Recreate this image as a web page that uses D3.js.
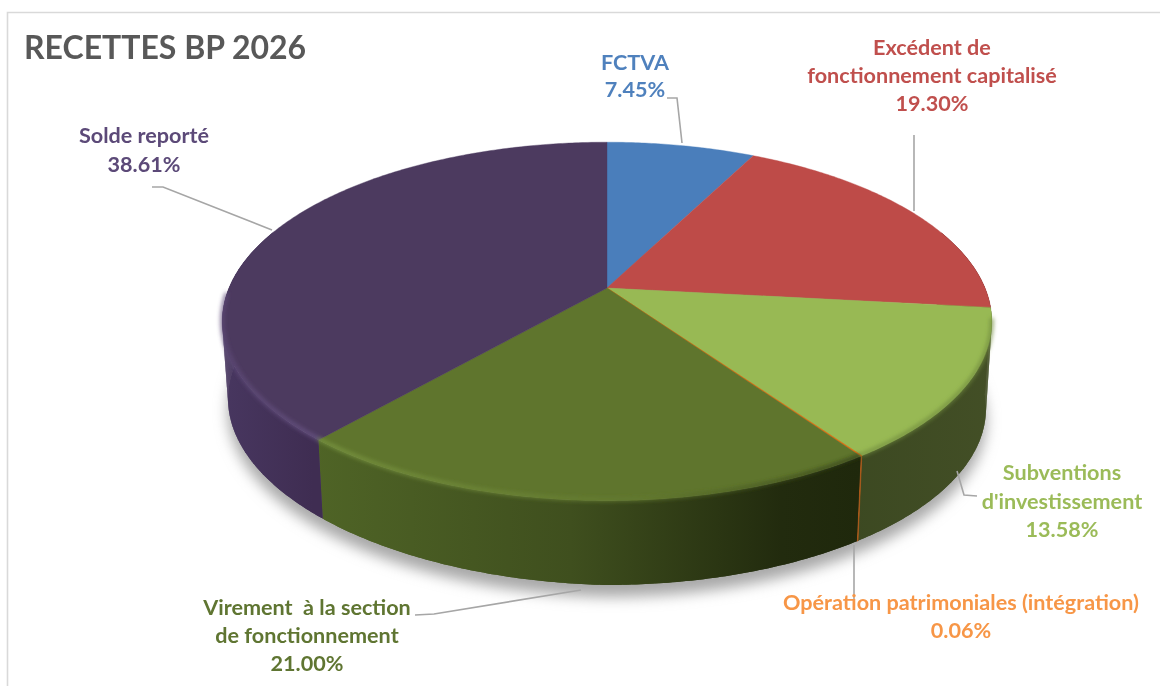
<!DOCTYPE html>
<html>
<head>
<meta charset="utf-8">
<script src="https://cdn.jsdelivr.net/npm/d3@7"></script>
<style>
  html, body { margin: 0; padding: 0; background: #fff; }
  svg { display: block; }
  text { font-family: Lato, "Open Sans", sans-serif; font-weight: 700; white-space: pre; }
</style>
</head>
<body>
<div id="chart"></div>
<script>
const categories = ["FCTVA", "Excédent de fonctionnement capitalisé", "Subventions d'investissement", "Opération patrimoniales (intégration)", "Virement à la section de fonctionnement", "Solde reporté"];
const values = [7.45, 19.30, 13.58, 0.06, 21.00, 38.61];
const valueLabels = ["7.45%", "19.30%", "13.58%", "0.06%", "21.00%", "38.61%"];
const colours = ["#4a7ebb", "#be4b48", "#98b954", "#e46c0a", "#5f752d", "#4c3a5f"];
const textColours = ["#4f81bd", "#c0504d", "#9bbb59", "#f79646", "#5f7530", "#5b4a78"];
const labelLines = [
  ["FCTVA"],
  ["Excédent de", "fonctionnement capitalisé"],
  ["Subventions", "d'investissement"],
  ["Opération patrimoniales (intégration)"],
  ["Virement  à la section", "de fonctionnement"],
  ["Solde reporté"]
];

// label centre + first baseline + line height
const labelPos = [
  {x: 635, y: 70, lh: 27},
  {x: 932, y: 55, lh: 28},
  {x: 1062, y: 480, lh: 28.5},
  {x: 961, y: 610, lh: 28},
  {x: 307, y: 615, lh: 28},
  {x: 144, y: 143, lh: 29}
];
const leaders = [
  [[667, 98], [677, 98], [682, 143]],
  [[914, 135], [914, 211]],
  [[957, 471], [964, 495], [977, 496]],
  [[854, 545], [854, 602]],
  [[581, 590], [434, 614], [415, 615]],
  [[152, 187], [163, 187], [272, 230]]
];

const width = 1160, height = 686;

const svg = d3.select("#chart").append("svg")
  .attr("width", width)
  .attr("height", height);

const defs = svg.append("defs");
defs.append("filter").attr("id", "shadow")
  .attr("x", "-10%").attr("y", "-10%").attr("width", "120%").attr("height", "120%")
  .append("feGaussianBlur").attr("stdDeviation", 7);
defs.append("filter").attr("id", "soft")
  .attr("x", "-5%").attr("y", "-5%").attr("width", "110%").attr("height", "110%")
  .append("feGaussianBlur").attr("stdDeviation", 2);
defs.append("filter").attr("id", "textblur")
  .append("feGaussianBlur").attr("stdDeviation", 0.35);

function wallGradient(id, stops) {
  const g = defs.append("linearGradient").attr("id", id)
    .attr("gradientUnits", "userSpaceOnUse")
    .attr("x1", 220).attr("x2", 1000).attr("y1", 0).attr("y2", 0);
  stops.forEach(function(s) {
    g.append("stop").attr("offset", s[0]).attr("stop-color", s[1]);
  });
}
wallGradient("wall-0", [[0, "#3a5c8a"], [1, "#3a5c8a"]]);
wallGradient("wall-1", [[0, "#6e2b29"], [1, "#5c2321"]]);
wallGradient("wall-2", [[0.75, "#3a4720"], [1, "#434f26"]]);
wallGradient("wall-3", [[0, "#a9591a"], [1, "#a9591a"]]);
wallGradient("wall-4", [[0.12, "#4f6426"], [0.45, "#3f4f1e"], [0.72, "#222b0e"], [0.82, "#1f280c"]]);
wallGradient("wall-5", [[0, "#483760"], [0.12, "#3f2d52"]]);
// rim highlights, they fade out towards the right
wallGradient("rim-2", [[0.8, "#6f8a3c"], [1, "#6f8a3c"]]);
wallGradient("rim-4", [[0.12, "#7f9c45"], [0.55, "#62792f"], [0.82, "#2c3815"]]);
wallGradient("rim-5", [[0, "#5e4a78"], [0.12, "#6b5688"]]);

const pie = d3.pie().sort(null).value(function(d) { return d; });
const arcs = pie(values);

// the pie is seen in perspective, so the apex is not the centre of the ellipse
const cx = 607, cy = 288, rxTop = 378, ryTop = 173, k = 0.1866;
const depth = 87.5, inset = 0.985;

function project(a, bottom) {
  const u = Math.sin(a), v = Math.cos(a), w = 1 + k * v;
  const s = bottom ? inset : 1;
  // wall looks a bit lower on the left side of the picture
  const d = bottom ? depth + Math.min(u, 0) * 10 : 0;
  return [cx + s * rxTop * u / w, cy + d - s * ryTop * v / w];
}

function arcSamples(a0, a1) {
  const n = Math.max(2, Math.ceil((a1 - a0) / 0.01));
  return d3.range(n + 1).map(function(i) { return a0 + (a1 - a0) * i / n; });
}

const line = d3.line();

// ground shadow
const full = arcSamples(0, 2 * Math.PI);
svg.append("path")
  .attr("d", line(full.map(function(a) {
    const p = project(a, true);
    return [p[0], p[1] + 12];
  })) + "Z")
  .attr("fill", "#a8a8a8")
  .attr("filter", "url(#shadow)");

// side walls, only the part which faces the viewer
const wallFrom = 70 * Math.PI / 180, wallTo = 290 * Math.PI / 180;
const walls = svg.append("g");
arcs.forEach(function(d, i) {
  const a0 = Math.max(d.startAngle, wallFrom), a1 = Math.min(d.endAngle, wallTo);
  if (a1 <= a0) return;
  const s = arcSamples(a0, a1);
  // small strips underneath: the silhouette runs straight from top rim to bottom rim
  d3.pairs(s).forEach(function(p) {
    const quad = [project(p[0], false), project(p[1], false), project(p[1], true), project(p[0], true)];
    walls.append("path")
      .attr("d", line(quad) + "Z")
      .attr("fill", "url(#wall-" + i + ")");
  });
  // one band on top hides the seams between the strips
  const pts = s.map(function(a) { return project(a, false); })
    .concat(s.slice().reverse().map(function(a) { return project(a, true); }));
  walls.append("path")
    .attr("d", line(pts) + "Z")
    .attr("fill", "url(#wall-" + i + ")")
    .attr("stroke", i == 3 ? "#a9591a" : "none")
    .attr("stroke-width", i == 3 ? 0.6 : 0);
});

// top faces
const tops = svg.append("g");
arcs.forEach(function(d, i) {
  const pts = [[cx, cy]].concat(arcSamples(d.startAngle, d.endAngle).map(function(a) { return project(a, false); }));
  tops.append("path")
    .attr("d", line(pts) + "Z")
    .attr("fill", colours[i])
    .attr("stroke", colours[i])
    .attr("stroke-width", i == 3 ? 0.6 : 0.4);
});

// bevel on the front rim only
const bevelFrom = 100 * Math.PI / 180, bevelTo = 268 * Math.PI / 180;
const bevel = svg.append("g").attr("filter", "url(#soft)");
arcs.forEach(function(d, i) {
  const a0 = Math.max(d.startAngle, bevelFrom), a1 = Math.min(d.endAngle, bevelTo);
  if (a1 <= a0 || i == 3) return;
  bevel.append("path")
    .attr("d", line(arcSamples(a0, a1).map(function(a) {
      const p = project(a, false);
      return [p[0], p[1] - 1];
    })))
    .attr("fill", "none")
    .attr("stroke", "url(#rim-" + i + ")")
    .attr("stroke-width", 3);
});

// leader lines
leaders.forEach(function(pts) {
  svg.append("path")
    .attr("d", line(pts))
    .attr("fill", "none")
    .attr("stroke", "#a6a6a6")
    .attr("stroke-width", 1.6);
});

// labels
const labels = svg.append("g").attr("filter", "url(#textblur)");
categories.forEach(function(c, i) {
  const pos = labelPos[i];
  labelLines[i].concat([valueLabels[i]]).forEach(function(t, j) {
    labels.append("text")
      .attr("x", pos.x)
      .attr("y", pos.y + j * pos.lh)
      .attr("text-anchor", "middle")
      .attr("font-size", 21.6)
      .attr("fill", textColours[i])
      .text(t);
  });
});

// title
labels.append("text")
  .attr("x", 24)
  .attr("y", 59)
  .attr("font-size", 32)
  .attr("fill", "#595959")
  .text("RECETTES BP 2026");

// frame of the screenshot
svg.append("path")
  .attr("d", line([[7.5, height], [7.5, 12.5], [width, 12.5]]))
  .attr("fill", "none")
  .attr("stroke", "#d9d9d9")
  .attr("stroke-width", 1.6);
</script>
</body>
</html>
